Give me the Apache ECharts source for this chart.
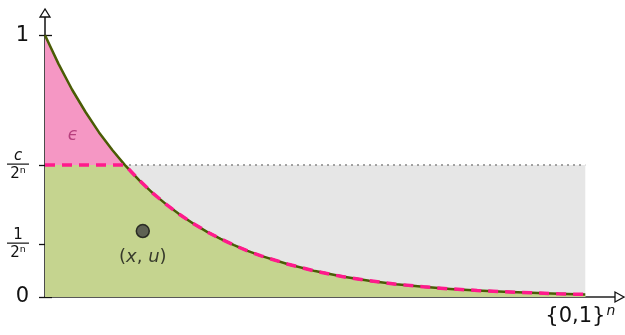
<!DOCTYPE html>
<html><head><meta charset="utf-8">
<script src="https://cdn.jsdelivr.net/npm/echarts@6/dist/echarts.min.js"></script>
<style>html,body{margin:0;padding:0;background:#fff}#c{width:625px;height:335px}</style>
</head><body><div id="c"></div>
<script>
// curve samples
const curveX = [0,0.25,0.5,0.75,1,1.25,1.48,1.75,2,2.25,2.5,2.75,3,3.25,3.5,3.75,4,4.5,5,5.5,6,6.5,7,7.5,8,8.5,9,9.5,10];
const curveY = [1,0.891,0.793,0.707,0.629,0.561,0.504,0.445,0.396,0.353,0.314,0.280,0.249,0.222,0.198,0.176,0.157,0.125,0.099,0.078,0.062,0.049,0.039,0.031,0.025,0.020,0.016,0.012,0.010];
const cLevel = 0.504;      // c / 2^n
const oneLevel = 0.202;    // 1 / 2^n
const xEnd = 10;
const pointXU = [1.81, 0.252];
const epsPos = [0.52, 0.618];
const yTickValues = [0, oneLevel, cLevel, 1];
const xMax = 10.55, yMax = 1.07;

const curve = curveX.map((x,i)=>[x, curveY[i]]);
const capped = curve.map(p=>[p[0], Math.min(p[1], cLevel)]);
const pinkPart = curve.filter(p=>p[1] >= cLevel);

const FONT = 'DejaVu Sans';
const chart = echarts.init(document.getElementById('c'), null, {renderer:'canvas'});
const fracW = 22;
chart.setOption({
  animation:false,
  grid:{left:45, right:10, top:17, bottom:38},
  xAxis:{type:'value', min:0, max:xMax, interval:10,
    splitLine:{show:false},
    axisLine:{lineStyle:{color:'#222', width:1.5}},
    axisTick:{show:false},
    axisLabel:{margin:7, fontFamily:FONT, fontSize:21, color:'#111', padding:[0,10,0,0],
      formatter:v=> v===xEnd ? '{0,1}{s|n}' : '',
      rich:{s:{fontFamily:FONT, fontSize:14, fontStyle:'italic', color:'#111', verticalAlign:'top', padding:[0,0,12,1]}}}
  },
  yAxis:[{type:'value', min:0, max:yMax, position:'left',
    splitLine:{show:false},
    axisLine:{lineStyle:{color:'#111', width:1.5}},
    axisTick:{length:6, customValues:yTickValues, lineStyle:{color:'#111', width:1.3}},
    axisLabel:{margin:16, customValues:yTickValues, fontFamily:FONT, fontSize:21, color:'#111',
      formatter:v=>{
        if (v===cLevel) return '{n|c}\n{bar| }\n{d|2ⁿ}';
        if (v===oneLevel) return '{m|1}\n{bar| }\n{d|2ⁿ}';
        return String(v);
      },
      rich:{
        n:{fontFamily:FONT, fontSize:15, fontStyle:'italic', color:'#111', width:fracW, align:'center', lineHeight:14},
        m:{fontFamily:FONT, fontSize:15, color:'#111', width:fracW, align:'center', lineHeight:14},
        bar:{fontSize:1, width:fracW, height:1.2, lineHeight:3, backgroundColor:'#111'},
        d:{fontFamily:FONT, fontSize:15, color:'#111', width:fracW, align:'center', lineHeight:16}
      }}
  },{type:'value', min:0, max:yMax, position:'left',
    splitLine:{show:false}, axisLine:{show:false}, axisLabel:{show:false},
    axisTick:{inside:true, length:7, customValues:yTickValues, lineStyle:{color:'#111', width:1.3}}
  }],
  series:[
    {type:'line', z:1, data:[[0,cLevel],[xEnd,cLevel]], symbol:'none',
      lineStyle:{color:'#888', width:1.5, type:[2,4]}, areaStyle:{color:'#e6e6e6', opacity:1}},
    {type:'line', z:2, data:pinkPart, symbol:'none',
      lineStyle:{width:0}, areaStyle:{color:'#f597c4', opacity:1}},
    {type:'line', z:3, data:capped, symbol:'none',
      lineStyle:{width:0}, areaStyle:{color:'#c5d48f', opacity:1}},
    {type:'line', z:4, data:curve, symbol:'none',
      lineStyle:{color:'#4a5c05', width:2.5, join:'round'}},
    {type:'line', z:5, data:capped, symbol:'none',
      lineStyle:{color:'#ff1a8c', width:3.5, type:[10,7]}},
    {type:'scatter', z:6, data:[pointXU], symbolSize:13,
      itemStyle:{color:'#444', borderColor:'#111', borderWidth:1.5},
      label:{show:true, position:'bottom', distance:10, fontFamily:FONT, fontSize:18, color:'#111',
        formatter:'({i|x}, {i|u})', rich:{i:{fontFamily:FONT, fontSize:18, fontStyle:'italic', color:'#111'}}}},
    {type:'scatter', z:6, data:[epsPos], symbolSize:0, itemStyle:{color:'transparent'},
      label:{show:true, position:'inside', fontFamily:FONT, fontSize:17, fontStyle:'italic', color:'#a8286c', formatter:'ϵ'}}
  ]
});
// hollow arrow heads at axis ends
const yTop = chart.convertToPixel({gridIndex:0}, [0, yMax]);
const xRight = chart.convertToPixel({gridIndex:0}, [xMax, 0]);
chart.setOption({graphic:[
  {type:'polygon', z:100, shape:{points:[[yTop[0],yTop[1]-8],[yTop[0]-5,yTop[1]],[yTop[0]+5,yTop[1]]]},
    style:{fill:'#fff', stroke:'#111', lineWidth:1.3}},
  {type:'polygon', z:100, shape:{points:[[xRight[0]+9,xRight[1]],[xRight[0],xRight[1]-5],[xRight[0],xRight[1]+5]]},
    style:{fill:'#fff', stroke:'#111', lineWidth:1.3}}
]});
</script></body></html>
